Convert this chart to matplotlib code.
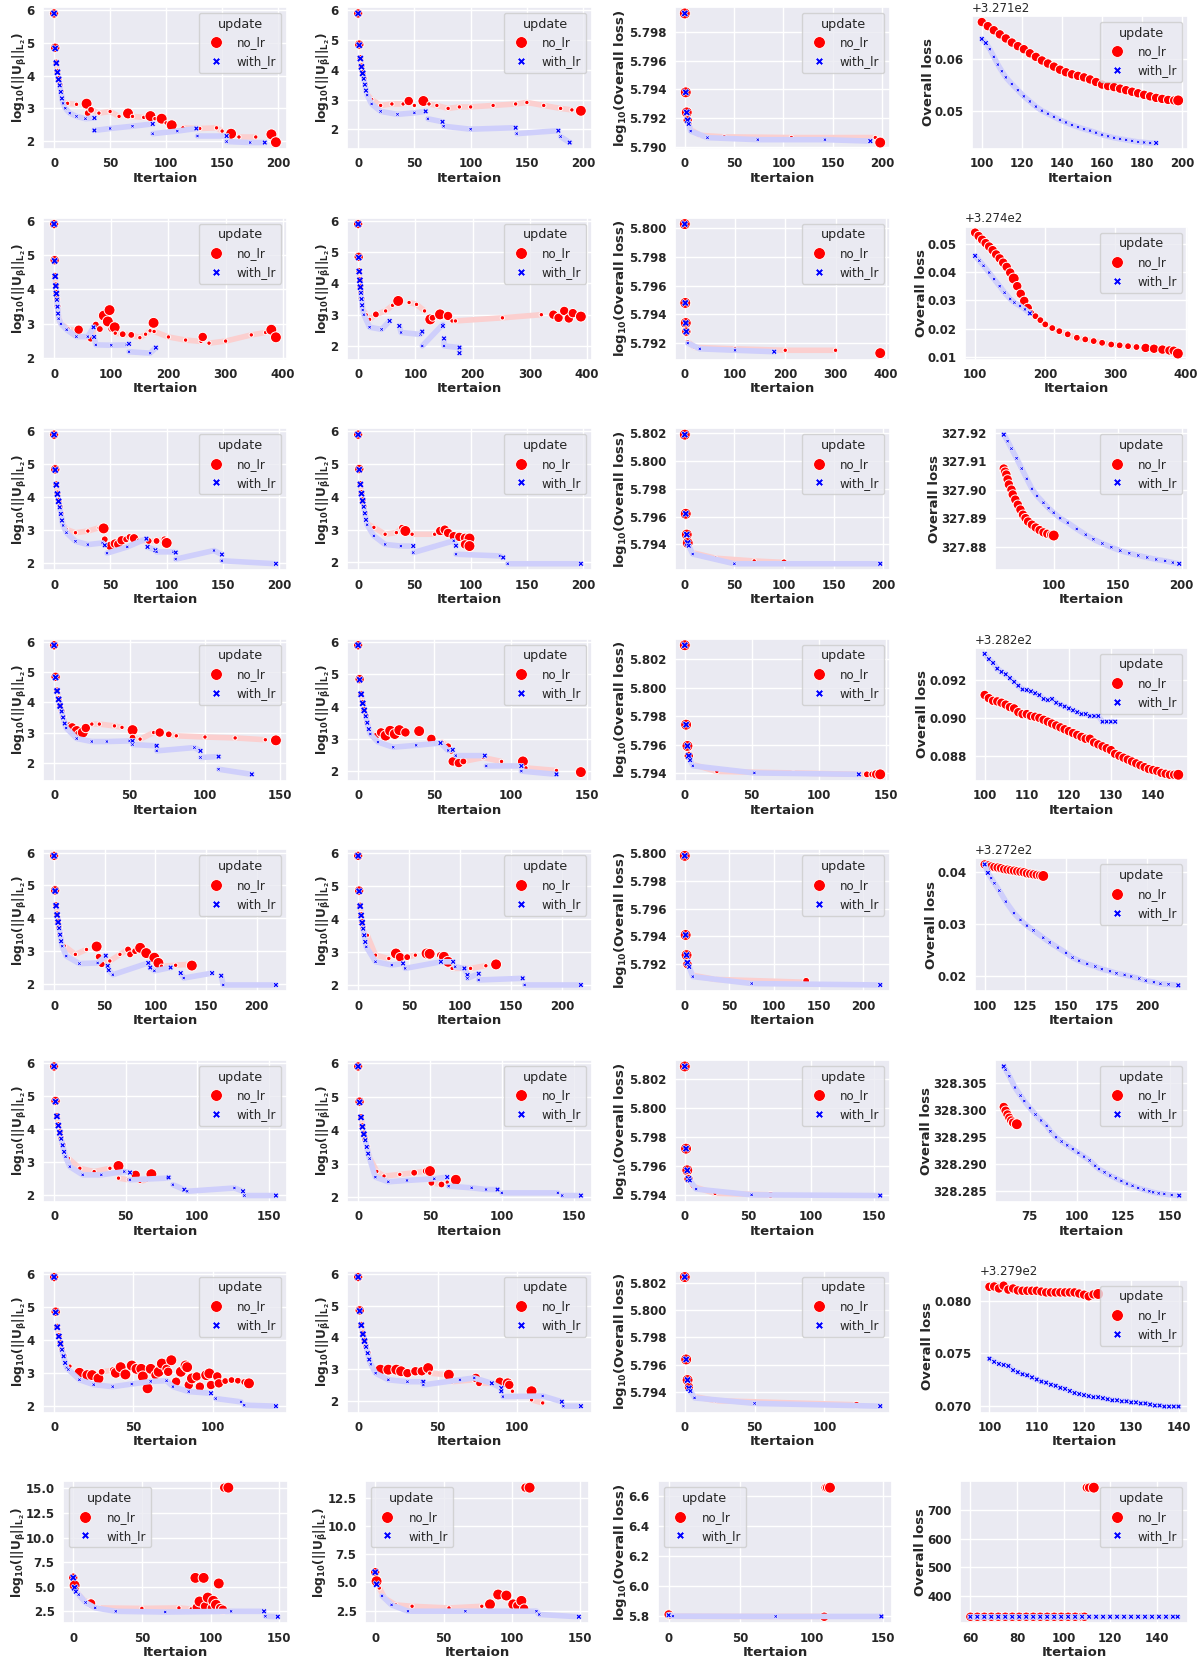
import numpy as np
import matplotlib.pyplot as plt
import seaborn as sns
from matplotlib.lines import Line2D

N = float('nan')
GAP = (N, N, 0)

# every point: (iteration, value, marker weight)  weight 0 = faint trail dot, 3 = big dot
start_no = [(0, 5.9, 2), (1, 4.85, 2), (2, 4.4, 1), (3, 4.12, 1), (4, 3.9, 1), (5, 3.72, 1),
            (6, 3.52, 1), (7, 3.32, 0), (8, 3.18, 0)]
start_lr = [(0, 5.9, 2), (1, 4.83, 2), (2, 4.38, 2), (3, 4.1, 2), (4, 3.88, 2), (5, 3.7, 1),
            (6, 3.5, 1), (7, 3.3, 1), (8, 3.15, 0)]

# ---- row 1
p11_no = start_no + [(12, 3.15, 0), (20, 3.12, 0), (29, 3.14, 3), GAP, (30, 2.85, 1), (33, 2.95, 1), (40, 2.85, 0),
                     (50, 2.9, 0), (58, 2.75, 0), (66, 2.84, 3), (70, 2.75, 0), (80, 2.72, 0), (86, 2.76, 3),
                     (90, 2.68, 0), (96, 2.68, 3), (100, 2.55, 0), (105, 2.48, 3), (115, 2.4, 0), (130, 2.38, 0),
                     (145, 2.4, 0), (150, 2.3, 0), (158, 2.22, 3), (165, 2.12, 0), (180, 2.12, 0), (194, 2.2, 3),
                     GAP, (196, 2.0, 0), (198, 1.96, 3)]
p11_lr = start_lr + [(10, 3.0, 0), (14, 2.85, 0), (20, 2.75, 0), (28, 2.68, 0), (36, 2.7, 1), GAP, (36, 2.32, 1),
                     (50, 2.38, 0), (70, 2.45, 0), (88, 2.52, 1), GAP, (88, 2.22, 0), (110, 2.3, 0), (127, 2.38, 1),
                     GAP, (128, 2.15, 0), (154, 2.15, 1), GAP, (154, 1.98, 0), (175, 1.95, 0), (188, 1.95, 1)]
p12_no = start_no + [(12, 3.0, 0), (20, 2.8, 0), (30, 2.85, 0), (40, 2.85, 0), (45, 2.95, 2), (50, 2.8, 0),
                     (58, 2.95, 3), (63, 2.85, 0), (70, 2.8, 0), (80, 2.7, 0), (90, 2.75, 0), (100, 2.75, 0),
                     (120, 2.8, 0), (140, 2.85, 0), (150, 2.9, 0), (165, 2.8, 0), (180, 2.7, 0), (190, 2.65, 0),
                     (198, 2.62, 3)]
p12_lr = start_lr + [(12, 2.85, 0), (20, 2.6, 0), (35, 2.5, 0), (50, 2.55, 0), (60, 2.6, 1), GAP, (62, 2.35, 0),
                     (75, 2.25, 1), GAP, (76, 2.1, 0), (100, 2.0, 0), (140, 2.05, 1), GAP, (141, 1.85, 0),
                     (178, 1.95, 1), GAP, (180, 1.75, 0), (188, 1.55, 1)]
p13_no = [(0, 5.7993, 3), (1, 5.7938, 3), (2, 5.7924, 3), (3, 5.79185, 2), (4, 5.7916, 1), (6, 5.7912, 0),
          (16, 5.7908, 0), (40, 5.7907, 0), (108, 5.79065, 0), (193, 5.79065, 0), (198, 5.7903, 3)]
p13_lr = [(0, 5.7993, 2), (1, 5.7938, 2), (2, 5.7924, 2), (3, 5.79185, 2), (4, 5.7916, 1), (6, 5.7911, 0),
          (23, 5.79064, 0), (74, 5.7905, 0), (142, 5.7905, 0), (188, 5.7904, 1)]
p14_no = [(100, 327.1673, 2), (103, 327.1665, 2), (106, 327.1657, 2), (109, 327.1649, 2), (112, 327.1641, 2),
          (115, 327.1633, 2), (118, 327.1626, 2), (121, 327.1620, 2), (124, 327.1612, 2), (127, 327.1605, 2),
          (130, 327.1598, 2), (133, 327.1592, 2), (136, 327.1586, 2), (139, 327.1580, 2), (142, 327.1575, 2),
          (145, 327.1571, 2), (148, 327.1568, 2), (151, 327.1565, 2), (154, 327.1561, 2), (157, 327.1556, 2),
          (160, 327.1551, 2), (163, 327.1548, 2), (166, 327.1546, 2), (169, 327.1543, 2), (172, 327.1540, 2),
          (175, 327.1537, 2), (178, 327.1534, 2), (181, 327.1531, 2), (184, 327.1528, 2), (187, 327.1525, 2),
          (190, 327.1523, 2), (193, 327.1521, 2), (196, 327.1520, 2), (198, 327.1520, 3)]
p14_lr = [(100, 327.1640, 1), (102, 327.1632, 1), (104, 327.1620, 0), (106, 327.1605, 0), (108, 327.1590, 0),
          (110, 327.1577, 0), (112, 327.1565, 0), (115, 327.1552, 0), (118, 327.1540, 0), (121, 327.1528, 0),
          (124, 327.1518, 0), (127, 327.1508, 0), (130, 327.1500, 0), (133, 327.1494, 0), (136, 327.1488, 0),
          (139, 327.1482, 0), (142, 327.1477, 0), (145, 327.1472, 0), (148, 327.1468, 0), (151, 327.1464, 0),
          (154, 327.1461, 0), (157, 327.1457, 0), (160, 327.1453, 0), (163, 327.1450, 0), (166, 327.1447, 0),
          (169, 327.1445, 0), (172, 327.1443, 0), (175, 327.1441, 0), (178, 327.1439, 0), (181, 327.1438, 0),
          (184, 327.1437, 0), (187, 327.1437, 1)]

# ---- row 2
p21_no = start_no + [(12, 3.0, 0), (25, 2.85, 0), (39, 2.8, 0), (43, 2.83, 2), GAP, (59, 2.59, 0), (64, 2.57, 1),
                     (73, 2.98, 1), (80, 2.85, 1), (87, 3.24, 3), (94, 3.07, 3), (97, 3.4, 3), (100, 2.85, 1),
                     (106, 2.9, 3), (107, 2.73, 0), (120, 2.7, 1), (135, 2.68, 1), (150, 2.6, 0), (160, 2.7, 0),
                     (168, 2.8, 0), (174, 3.03, 3), GAP, (175, 2.78, 0), (200, 2.62, 0), (230, 2.53, 0),
                     (257, 2.49, 0), (260, 2.62, 2), (271, 2.44, 0), (300, 2.5, 0), (345, 2.68, 0), (370, 2.75, 0),
                     (380, 2.83, 3), (388, 2.61, 3)]
p21_lr = start_lr + [(12, 3.0, 0), (22, 2.83, 0), (39, 2.63, 0), (59, 2.63, 0), (69, 2.9, 1), GAP, (70, 2.62, 1),
                     (73, 2.39, 0), (100, 2.38, 0), (127, 2.39, 0), (131, 2.42, 1), GAP, (131, 2.19, 0),
                     (168, 2.15, 0), (178, 2.31, 1)]
p22_no = start_no + [(14, 3.0, 0), (20, 2.85, 0), (31, 3.01, 1), (48, 3.12, 0), (60, 3.3, 0), (70, 3.44, 3),
                     (89, 3.39, 0), (102, 3.33, 0), (116, 3.12, 0), (126, 2.85, 3), (130, 2.9, 1), (143, 3.01, 3),
                     (157, 2.96, 2), (164, 2.8, 0), (170, 2.8, 0), (252, 2.9, 0), (320, 3.0, 0), (341, 3.0, 2),
                     (350, 2.9, 2), (360, 3.12, 2), (368, 2.88, 2), (375, 3.05, 2), (389, 2.94, 3)]
p22_lr = start_lr + [(10, 3.0, 0), (20, 2.6, 0), (41, 2.53, 0), (55, 2.8, 1), GAP, (72, 2.64, 1), (75, 2.43, 0),
                     (109, 2.37, 0), (112, 2.46, 1), GAP, (112, 2.0, 0), (148, 2.69, 0), (148, 2.64, 1), GAP,
                     (150, 2.24, 1), (150, 2.0, 0), (177, 1.95, 1), (177, 1.77, 1)]
p23_no = [(0, 5.8003, 3), (1, 5.7948, 3), (2, 5.7934, 3), (3, 5.7928, 2), (6, 5.7921, 0), (20, 5.7917, 0),
          (100, 5.7916, 0), (200, 5.7915, 0), (300, 5.7915, 0), (389, 5.7913, 3)]
p23_lr = [(0, 5.8003, 2), (1, 5.7948, 2), (2, 5.7934, 2), (3, 5.7928, 2), (6, 5.7920, 0), (30, 5.7916, 0),
          (100, 5.7915, 0), (178, 5.7914, 1)]
p24_no = [(100, 327.4539, 2), (105, 327.4527, 2), (110, 327.4514, 2), (115, 327.4502, 2), (120, 327.4490, 2),
          (125, 327.4477, 2), (130, 327.4462, 2), (135, 327.4448, 2), (140, 327.4433, 2), (145, 327.4418, 2),
          (150, 327.4398, 2), (155, 327.4377, 3), (160, 327.4350, 2), (165, 327.4323, 2), (170, 327.4298, 2),
          (175, 327.4273, 2), (180, 327.4255, 1), (186, 327.4244, 1), (193, 327.4230, 1), (200, 327.4215, 1),
          (210, 327.4202, 1), (220, 327.4191, 1), (232, 327.4180, 1), (245, 327.4168, 1), (257, 327.4162, 1),
          (269, 327.4156, 1), (281, 327.4150, 1), (294, 327.4144, 1), (306, 327.4141, 1), (318, 327.4138, 1),
          (330, 327.4135, 1), (343, 327.4132, 2), (355, 327.4129, 2), (367, 327.4126, 2), (377, 327.4123, 2),
          (383, 327.4122, 2), (389, 327.4112, 3)]
p24_lr = [(100, 327.4457, 1), (106, 327.4440, 0), (112, 327.4422, 0), (120, 327.4398, 0), (127, 327.4375, 0),
          (135, 327.4350, 0), (142, 327.4327, 0), (150, 327.4305, 0), (156, 327.4292, 0), (164, 327.4280, 0),
          (171, 327.4268, 0), (178, 327.4254, 1)]

# ---- row 3
p31_no = start_no + [(11, 3.03, 0), (19, 2.93, 0), (30, 2.98, 0), (40, 3.08, 0), (44, 3.06, 3), GAP, (45, 2.73, 1),
                     (50, 2.53, 2), (54, 2.6, 2), (57, 2.58, 2), (60, 2.7, 2), (64, 2.73, 1), (67, 2.8, 1),
                     (71, 2.76, 2), GAP, (75, 2.7, 0), (84, 2.68, 1), (91, 2.68, 1), (98, 2.73, 1), (100, 2.62, 3)]
p31_lr = start_lr + [(11, 2.93, 0), (19, 2.67, 0), (30, 2.57, 0), (43, 2.62, 0), (45, 2.55, 1), GAP, (47, 2.31, 0),
                     (65, 2.5, 0), (82, 2.75, 1), GAP, (83, 2.5, 1), (90, 2.4, 1), GAP, (91, 2.35, 0),
                     (106, 2.35, 0), (108, 2.33, 1), GAP, (108, 2.13, 0), (142, 2.39, 0), (149, 2.27, 1), GAP,
                     (149, 2.08, 0), (197, 1.99, 1)]
p32_no = start_no + [(14, 3.07, 0), (24, 2.86, 0), (34, 2.91, 0), (39, 3.06, 1), (42, 2.96, 3), (48, 2.86, 0),
                     (68, 2.86, 0), (73, 2.96, 2), (77, 3.0, 2), (80, 2.9, 2), (85, 2.8, 2), (90, 2.78, 2),
                     (95, 2.75, 2), (99, 2.73, 3), GAP, (95, 2.55, 2), (99, 2.5, 3)]
p32_lr = start_lr + [(14, 2.81, 0), (24, 2.55, 0), (38, 2.5, 0), (49, 2.5, 1), GAP, (49, 2.3, 0), (85, 2.66, 0),
                     (87, 2.51, 1), GAP, (87, 2.25, 0), (126, 2.2, 0), (129, 2.15, 1), GAP, (133, 1.96, 0),
                     (198, 1.96, 1)]
p33_no = [(0, 5.8019, 3), (1, 5.7962, 3), (2, 5.7947, 3), (3, 5.7941, 3), (8, 5.7934, 0), (31, 5.7930, 0),
          (70, 5.7928, 0), (100, 5.7927, 1)]
p33_lr = [(0, 5.8019, 2), (1, 5.7962, 2), (2, 5.7947, 2), (3, 5.7941, 2), (4, 5.7939, 1), (8, 5.7933, 0),
          (50, 5.7926, 0), (197, 5.7926, 1)]
p34_no = [(61, 327.9074, 2), (62, 327.9063, 2), (63, 327.9053, 2), (64, 327.9036, 2), (65, 327.9018, 2),
          (67, 327.9000, 2), (68, 327.8983, 2), (70, 327.8965, 2), (72, 327.8947, 2), (74, 327.8930, 2),
          (76, 327.8912, 2), (78, 327.8900, 2), (80, 327.8888, 2), (83, 327.8877, 2), (86, 327.8867, 2),
          (89, 327.8858, 2), (92, 327.8850, 2), (95, 327.8845, 2), (98, 327.8841, 2), (100, 327.8839, 3)]
p34_lr = [(61, 327.9193, 1), (64, 327.9170, 0), (67, 327.9144, 0), (71, 327.9110, 0), (75, 327.9074, 0),
          (79, 327.9038, 0), (83, 327.9003, 0), (87, 327.8978, 0), (92, 327.8954, 0), (96, 327.8935, 0),
          (100, 327.8919, 0), (105, 327.8900, 0), (111, 327.8884, 0), (118, 327.8862, 0), (125, 327.8842, 0),
          (131, 327.8826, 0), (138, 327.8811, 0), (145, 327.8798, 0), (152, 327.8786, 0), (159, 327.8777, 0),
          (166, 327.8769, 0), (173, 327.8762, 0), (180, 327.8755, 0), (187, 327.8750, 0), (193, 327.8744, 0),
          (198, 327.8740, 1)]

# ---- row 4
p41_no = start_no + [(10, 3.28, 0), (12, 3.17, 2), (15, 3.05, 3), (17, 2.92, 3), (19, 3.0, 3), (21, 3.15, 2),
                     (25, 3.28, 0), (30, 3.28, 0), (40, 3.22, 0), (45, 3.17, 0), (52, 3.08, 3), GAP, (52, 2.83, 1),
                     (57, 2.78, 0), (66, 3.0, 0), (70, 3.0, 2), (76, 2.94, 1), (81, 2.89, 0), (100, 2.85, 0),
                     (120, 2.82, 0), (140, 2.76, 0), (147, 2.74, 3)]
p41_lr = start_lr + [(15, 2.8, 0), (25, 2.7, 0), (35, 2.7, 0), (50, 2.72, 0), (52, 2.72, 1), GAP, (52, 2.6, 0),
                     (67, 2.56, 0), (68, 2.56, 1), GAP, (68, 2.39, 0), (93, 2.5, 0), (97, 2.39, 1), GAP,
                     (97, 2.17, 0), (109, 2.2, 1), GAP, (109, 1.78, 0), (131, 1.61, 1)]
p42_no = start_no + [(12, 3.1, 1), (15, 3.2, 2), (18, 3.1, 3), (21, 3.25, 3), (24, 3.15, 3), (27, 3.27, 3),
                     (31, 3.2, 2), (40, 3.24, 3), (48, 3.0, 2), (55, 2.9, 0), (59, 2.77, 1), (61, 2.63, 1), GAP,
                     (62, 2.3, 2), (66, 2.25, 2), (69, 2.3, 1), (82, 2.42, 0), (94, 2.3, 0), (108, 2.3, 3), GAP,
                     (110, 2.1, 0), (130, 2.02, 0), (146, 1.97, 3)]
p42_lr = start_lr + [(13, 2.9, 0), (23, 2.74, 0), (38, 2.8, 0), (54, 2.87, 1), (59, 2.64, 0), (62, 2.66, 1), GAP,
                     (64, 2.48, 0), (83, 2.48, 1), GAP, (84, 2.16, 0), (107, 2.16, 1), GAP, (107, 2.0, 0),
                     (130, 1.9, 1)]
p43_no = [(0, 5.803, 3), (1, 5.7974, 3), (2, 5.7959, 3), (3, 5.7952, 2), (6, 5.7946, 0), (24, 5.7941, 0),
          (81, 5.7940, 0), (130, 5.7939, 0), (136, 5.7939, 1), (140, 5.7939, 1), (143, 5.7939, 2), (146, 5.7939, 3)]
p43_lr = [(0, 5.803, 2), (1, 5.7974, 2), (2, 5.7959, 2), (3, 5.7952, 2), (4, 5.7949, 1), (6, 5.7945, 0),
          (52, 5.7940, 0), (130, 5.7939, 1)]
p44_no = [(100, 328.29121, 2), (101, 328.29104, 2), (102, 328.2909, 2), (103, 328.29087, 2), (104, 328.2908, 2),
          (105, 328.2907, 2), (106, 328.29057, 2), (107, 328.2905, 2), (108, 328.2903, 2), (109, 328.2902, 2),
          (110, 328.2902, 2), (111, 328.2901, 2), (112, 328.29006, 2), (113, 328.2900, 2), (114, 328.2899, 2),
          (115, 328.2898, 2), (116, 328.2897, 2), (117, 328.2896, 2), (118, 328.2895, 2), (119, 328.2894, 2),
          (120, 328.2893, 2), (121, 328.2892, 2), (122, 328.2891, 2), (123, 328.2890, 2), (124, 328.2889, 2),
          (125, 328.2889, 2), (126, 328.2887, 2), (127, 328.2886, 2), (128, 328.2885, 2), (129, 328.2884, 2),
          (130, 328.2883, 2), (131, 328.2881, 2), (132, 328.2880, 2), (133, 328.2879, 2), (134, 328.2878, 2),
          (135, 328.2877, 2), (136, 328.2876, 2), (137, 328.2875, 2), (138, 328.2874, 2), (139, 328.2873, 2),
          (140, 328.28725, 2), (141, 328.2872, 2), (142, 328.2871, 2), (143, 328.28705, 2), (144, 328.2870, 2),
          (145, 328.2870, 2), (146, 328.2870, 3)]
p44_lr = [(100, 328.29338, 1), (101, 328.2931, 1), (102, 328.2929, 1), (103, 328.2926, 1), (104, 328.29243, 1),
          (105, 328.2923, 1), (106, 328.2921, 1), (107, 328.2919, 1), (108, 328.2917, 1), (109, 328.2915, 1),
          (110, 328.29147, 1), (111, 328.2914, 1), (112, 328.2913, 1), (113, 328.2912, 1), (114, 328.2910, 1),
          (115, 328.29094, 1), (116, 328.2910, 1), (117, 328.2908, 1), (118, 328.2907, 1), (119, 328.2906, 1),
          (120, 328.2905, 1), (121, 328.2904, 1), (122, 328.2903, 1), (123, 328.2902, 1), (124, 328.2902, 1),
          (125, 328.2901, 1), (126, 328.2901, 1), (127, 328.2901, 1), (128, 328.2898, 1), (129, 328.2898, 1),
          (130, 328.2898, 1), (131, 328.2898, 1)]

# ---- row 5
p51_no = start_no + [(10, 3.16, 0), (21, 2.9, 0), (32, 3.05, 0), (42, 3.14, 3), GAP, (44, 2.83, 1), (47, 2.6, 1),
                     (55, 2.7, 0), (65, 2.9, 0), (73, 3.05, 1), (75, 2.9, 1), (80, 3.0, 1), (85, 3.1, 3),
                     (91, 2.94, 3), (99, 2.8, 3), (103, 2.64, 3), (106, 2.54, 0), (120, 2.57, 0), (134, 2.6, 0),
                     (136, 2.56, 3)]
p51_lr = start_lr + [(12, 2.85, 0), (25, 2.62, 0), (43, 2.64, 0), (51, 2.86, 1), GAP, (53, 2.55, 1), (54, 2.42, 1),
                     (58, 2.28, 0), (93, 2.64, 1), GAP, (95, 2.5, 1), (99, 2.4, 0), (115, 2.5, 1), GAP,
                     (125, 2.33, 1), (128, 2.18, 0), (156, 2.33, 1), GAP, (165, 2.25, 1), (167, 1.97, 0),
                     (219, 1.97, 1)]
p52_no = start_no + [(9, 3.5, 0), (17, 2.9, 0), (30, 2.8, 0), (37, 2.95, 3), (41, 2.84, 2), (48, 2.84, 1),
                     (56, 2.9, 0), (67, 2.95, 3), (70, 2.94, 3), (80, 2.9, 1), (84, 2.85, 3), (88, 2.7, 3),
                     (93, 2.5, 0), GAP, (92, 2.5, 0), (110, 2.5, 0), (125, 2.58, 0), (135, 2.62, 3)]
p52_lr = start_lr + [(17, 2.7, 0), (33, 2.6, 0), (44, 2.65, 1), GAP, (46, 2.5, 0), (81, 2.7, 1), (93, 2.7, 1), GAP,
                     (95, 2.55, 0), (104, 2.5, 1), (107, 2.3, 1), GAP, (107, 2.2, 0), (118, 2.34, 1), GAP,
                     (118, 2.15, 0), (161, 2.2, 1), GAP, (163, 2.0, 0), (218, 2.0, 1)]
p53_no = [(0, 5.7998, 3), (1, 5.7941, 3), (2, 5.79265, 3), (3, 5.7920, 2), (9, 5.7912, 0), (34, 5.7909, 0),
          (134, 5.7907, 0), (136, 5.7908, 1)]
p53_lr = [(0, 5.7998, 2), (1, 5.7941, 2), (2, 5.79265, 2), (3, 5.7921, 2), (5, 5.7918, 1), (9, 5.7911, 0),
          (75, 5.7906, 0), (219, 5.7905, 1)]
p54_no = [(100, 327.2414, 2), (102, 327.2412, 2), (104, 327.2410, 2), (106, 327.2409, 2), (108, 327.2408, 2),
          (110, 327.2407, 2), (112, 327.2405, 2), (114, 327.2404, 2), (116, 327.2403, 2), (118, 327.2402, 2),
          (120, 327.2401, 2), (122, 327.2400, 2), (124, 327.2399, 2), (126, 327.2397, 2), (128, 327.2396, 2),
          (130, 327.2395, 2), (132, 327.2394, 2), (134, 327.2393, 2), (136, 327.2392, 3)]
p54_lr = [(100, 327.2414, 1), (102, 327.2398, 1), (104, 327.2388, 0), (106, 327.2378, 0), (109, 327.2364, 0),
          (113, 327.2343, 0), (118, 327.2321, 0), (122, 327.2308, 0), (126, 327.2297, 0), (130, 327.2288, 0),
          (136, 327.2274, 0), (140, 327.2265, 0), (145, 327.2255, 0), (150, 327.2245, 0), (154, 327.2236, 0),
          (158, 327.2230, 0), (163, 327.2224, 0), (168, 327.2219, 0), (172, 327.2214, 0), (177, 327.2210, 0),
          (181, 327.2206, 0), (186, 327.2203, 0), (190, 327.2200, 0), (195, 327.2196, 0), (199, 327.2192, 0),
          (204, 327.2189, 0), (208, 327.2186, 0), (213, 327.2185, 0), (219, 327.2183, 1)]

# ---- row 6
p61_no = start_no + [(10, 3.1, 0), (18, 2.8, 0), (28, 2.7, 0), (39, 2.8, 0), (45, 2.87, 3), GAP, (45, 2.5, 0),
                     (52, 2.45, 0), (57, 2.6, 2), (60, 2.4, 0), (65, 2.45, 0), (68, 2.62, 3)]
p61_lr = start_lr + [(11, 2.85, 0), (20, 2.6, 0), (33, 2.6, 0), (49, 2.7, 0), (53, 2.67, 1), GAP, (53, 2.45, 0),
                     (79, 2.5, 0), (80, 2.52, 1), GAP, (83, 2.3, 0), (91, 2.15, 1), GAP, (93, 2.1, 0),
                     (126, 2.2, 0), (132, 2.1, 1), GAP, (133, 1.97, 0), (155, 1.97, 1)]
p62_no = start_no + [(13, 2.77, 0), (18, 2.63, 0), (29, 2.68, 0), (39, 2.73, 1), (47, 2.78, 1), (50, 2.78, 3), GAP,
                     (51, 2.43, 1), (58, 2.38, 1), (62, 2.45, 0), (68, 2.52, 3)]
p62_lr = start_lr + [(12, 2.6, 0), (21, 2.46, 0), (34, 2.5, 0), (53, 2.55, 0), (62, 2.6, 1), GAP, (63, 2.33, 0),
                     (79, 2.28, 0), (89, 2.23, 0), (97, 2.23, 1), GAP, (100, 2.13, 0), (139, 2.13, 0), GAP,
                     (142, 2.05, 0), (155, 2.05, 1)]
p63_no = [(0, 5.8029, 3), (1, 5.7972, 3), (2, 5.7957, 3), (3, 5.7951, 2), (6, 5.7946, 0), (24, 5.7941, 0),
          (68, 5.7940, 1)]
p63_lr = [(0, 5.8029, 2), (1, 5.7972, 2), (2, 5.7957, 2), (3, 5.7951, 2), (4, 5.7950, 1), (9, 5.7944, 0),
          (53, 5.7940, 0), (155, 5.79395, 1)]
p64_no = [(61, 328.3005, 2), (62, 328.2998, 2), (63, 328.2991, 2), (64, 328.2985, 2), (65, 328.2980, 2),
          (66, 328.2976, 2), (68, 328.2973, 3)]
p64_lr = [(61, 328.3080, 1), (62, 328.3074, 0), (64, 328.3062, 0), (67, 328.3041, 0), (70, 328.3026, 0),
          (72, 328.3016, 0), (75, 328.3003, 0), (78, 328.2991, 0), (81, 328.2980, 0), (84, 328.2970, 0),
          (86, 328.2960, 0), (89, 328.2949, 0), (92, 328.2941, 0), (95, 328.2934, 0), (98, 328.2927, 0),
          (101, 328.2920, 0), (104, 328.2913, 0), (107, 328.2906, 0), (110, 328.2896, 0), (112, 328.2890, 0),
          (115, 328.2884, 0), (118, 328.2878, 0), (121, 328.2873, 0), (124, 328.2868, 0), (127, 328.2863, 0),
          (130, 328.2859, 0), (133, 328.2855, 0), (136, 328.2852, 0), (139, 328.2849, 0), (141, 328.2847, 0),
          (144, 328.2845, 0), (147, 328.2844, 0), (151, 328.2842, 0), (155, 328.2841, 1)]

# ---- row 7
p71_no = start_no + [(10, 3.2, 0), (16, 3.0, 3), (21, 2.93, 3), (24, 2.93, 3), (28, 2.83, 3), (30, 3.03, 1),
                     (37, 3.08, 1), (39, 3.0, 3), (42, 3.17, 3), (45, 2.95, 3), (49, 3.22, 3), (52, 3.12, 3),
                     (55, 3.12, 3), (56, 2.89, 3), (59, 2.53, 3), (61, 3.12, 3), (64, 2.93, 2), (66, 3.03, 3),
                     (68, 3.28, 3), (71, 3.12, 2), (72, 3.03, 2), (74, 3.38, 3), (77, 2.73, 2), (80, 3.03, 3),
                     (83, 3.22, 3), (84, 3.17, 3), (85, 2.63, 2), (87, 2.83, 3), (90, 2.89, 2), (92, 2.58, 2),
                     (96, 2.93, 3), (98, 2.98, 3), (99, 2.63, 2), (103, 2.89, 2), (104, 2.68, 2), (108, 2.75, 1),
                     (112, 2.78, 1), (116, 2.76, 1), (120, 2.72, 1), (123, 2.68, 3)]
p71_lr = start_lr + [(9, 3.1, 0), (16, 2.79, 0), (25, 2.64, 0), (37, 2.58, 0), (49, 2.66, 0), (61, 2.74, 0),
                     (71, 2.76, 0), (75, 2.58, 0), (85, 2.43, 0), (99, 2.38, 1), GAP, (102, 2.22, 0),
                     (118, 2.12, 0), GAP, (120, 2.02, 0), (140, 1.99, 1)]
p72_no = start_no + [(14, 2.98, 3), (19, 2.98, 3), (24, 2.98, 3), (27, 2.93, 3), (31, 2.87, 2), (36, 2.93, 2),
                     (40, 2.93, 2), (44, 3.03, 3), (45, 2.87, 0), (56, 2.82, 0), (57, 2.82, 3), GAP, (59, 2.6, 0),
                     (73, 2.66, 0), (74, 2.72, 2), (76, 2.55, 1), (85, 2.55, 0), (89, 2.6, 2), (94, 2.55, 3),
                     (95, 2.5, 2), GAP, (97, 2.3, 0), (109, 2.3, 3), GAP, (109, 2.03, 0), (116, 1.93, 0)]
p72_lr = start_lr + [(11, 2.87, 0), (19, 2.66, 0), (31, 2.6, 0), (40, 2.6, 0), (41, 2.6, 1), GAP, (41, 2.5, 0),
                     (64, 2.66, 0), (73, 2.72, 0), (84, 2.55, 1), (90, 2.4, 1), (90, 2.3, 1), GAP, (91, 2.13, 0),
                     (116, 2.15, 0), (128, 1.97, 1), GAP, (129, 1.83, 0), (140, 1.83, 1)]
p73_no = [(0, 5.8024, 3), (1, 5.7964, 3), (2, 5.7949, 3), (3, 5.7944, 2), (7, 5.7937, 0), (22, 5.7934, 0),
          (123, 5.7931, 1)]
p73_lr = [(0, 5.8024, 2), (1, 5.7964, 2), (2, 5.7949, 2), (3, 5.7943, 2), (4, 5.7941, 1), (7, 5.7936, 0),
          (50, 5.7932, 0), (140, 5.7930, 1)]
p74_no = [(100, 327.98141, 2), (101, 327.98144, 2), (102, 327.98125, 2), (103, 327.98152, 2), (104, 327.98114, 2),
          (105, 327.98125, 2), (106, 327.98106, 2), (107, 327.98103, 2), (108, 327.98103, 2), (109, 327.98103, 2),
          (110, 327.98103, 2), (111, 327.98095, 2), (112, 327.98087, 2), (113, 327.98087, 2), (114, 327.98087, 2),
          (115, 327.98087, 2), (116, 327.98087, 2), (117, 327.98087, 2), (118, 327.98087, 2), (119, 327.98076, 2),
          (120, 327.98065, 2), (121, 327.98049, 2), (122, 327.98068, 2), (123, 327.98072, 3)]
p74_lr = [(100, 327.9745, 1), (101, 327.9742, 1), (102, 327.9740, 1), (103, 327.9739, 1), (104, 327.9738, 1),
          (105, 327.9734, 1), (106, 327.9732, 1), (107, 327.9730, 1), (108, 327.9729, 1), (109, 327.9727, 1),
          (110, 327.9725, 1), (111, 327.9723, 1), (112, 327.9722, 1), (113, 327.9720, 1), (114, 327.9719, 1),
          (115, 327.9717, 1), (116, 327.9716, 1), (117, 327.9714, 1), (118, 327.9712, 1), (119, 327.9711, 1),
          (120, 327.9710, 1), (121, 327.9709, 1), (122, 327.9708, 1), (123, 327.9708, 1), (124, 327.9707, 1),
          (125, 327.9706, 1), (126, 327.9705, 1), (127, 327.9705, 1), (128, 327.9704, 1), (129, 327.9704, 1),
          (130, 327.9703, 1), (131, 327.9703, 1), (132, 327.9702, 1), (133, 327.9702, 1), (134, 327.9701, 1),
          (135, 327.9700, 1), (136, 327.9700, 1), (137, 327.9699, 1), (138, 327.9699, 1), (139, 327.9699, 1),
          (140, 327.9699, 1)]

# ---- row 8
p81_no = [(0, 5.92, 2), (1, 5.13, 3), (2, 4.7, 1), (4, 4.2, 0), (8, 3.6, 0), (12, 3.45, 1), (13, 3.3, 2),
          (19, 2.85, 0), (50, 2.8, 0), (77, 2.85, 0), (86, 2.75, 0), (89, 5.9, 3), (90, 2.9, 2), (92, 3.5, 3),
          (95, 5.9, 3), (96, 3.0, 2), (98, 3.9, 3), (101, 2.83, 2), (102, 3.57, 3), (104, 3.17, 3), (106, 5.33, 3),
          (107, 2.83, 2), (109, 2.67, 2), (110, 15.07, 2), (113, 15.07, 3)]
p81_lr = [(0, 5.92, 2), (1, 4.9, 2), (2, 4.5, 1), (4, 4.2, 0), (9, 3.4, 0), (16, 2.85, 0), (31, 2.5, 0),
          (67, 2.43, 0), (115, 2.5, 0), (139, 2.5, 1), GAP, (140, 2.0, 0), (149, 1.95, 1)]
p82_no = [(0, 5.9, 2), (1, 5.1, 3), (3, 4.5, 0), (7, 3.6, 0), (15, 3.0, 0), (27, 2.88, 0), (54, 2.73, 0),
          (78, 2.88, 0), (84, 3.05, 3), (90, 3.92, 3), (96, 3.83, 3), (101, 3.05, 3), (104, 2.93, 2), (107, 3.36, 3),
          (109, 2.67, 2), (110, 13.4, 2), (113, 13.4, 3)]
p82_lr = [(0, 5.9, 2), (1, 4.83, 2), (5, 3.8, 0), (12, 3.0, 0), (24, 2.44, 0), (66, 2.44, 0), (118, 2.44, 0),
          (120, 2.15, 0), (149, 1.95, 1)]
p83_no = [(0, 5.813, 2), (1, 5.805, 1), (5, 5.801, 0), (50, 5.800, 0), (108, 5.800, 0), (109, 5.798, 2),
          (110, 6.652, 2), (111, 6.652, 2), (113, 6.652, 3)]
p83_lr = [(0, 5.808, 1), (3, 5.802, 0), (75, 5.800, 0), (149, 5.800, 1)]
p84_no = [(60, 328.3, 2), (63, 328.3, 2), (66, 328.3, 2), (69, 328.3, 2), (72, 328.3, 2), (75, 328.3, 2),
          (78, 328.3, 2), (81, 328.3, 2), (84, 328.3, 2), (87, 328.3, 2), (90, 328.3, 2), (93, 328.3, 2),
          (96, 328.3, 2), (99, 328.3, 2), (102, 328.3, 2), (105, 328.3, 2), (108, 328.3, 2), (109, 328.3, 2),
          (110, 777.0, 2), (111, 777.0, 2), (113, 777.0, 3)]
p84_lr = [(60, 328.3, 1), (63, 328.3, 1), (66, 328.3, 1), (69, 328.3, 1), (72, 328.3, 1), (75, 328.3, 1),
          (78, 328.3, 1), (81, 328.3, 1), (84, 328.3, 1), (87, 328.3, 1), (90, 328.3, 1), (93, 328.3, 1),
          (96, 328.3, 1), (99, 328.3, 1), (102, 328.3, 1), (105, 328.3, 1), (108, 328.3, 1), (111, 328.3, 1),
          (114, 328.3, 1), (117, 328.3, 1), (120, 328.3, 1), (123, 328.3, 1), (126, 328.3, 1), (129, 328.3, 1),
          (132, 328.3, 1), (135, 328.3, 1), (138, 328.3, 1), (141, 328.3, 1), (144, 328.3, 1), (147, 328.3, 1),
          (149, 328.3, 1)]

runs = [
    [(p11_no, p11_lr), (p12_no, p12_lr), (p13_no, p13_lr), (p14_no, p14_lr)],
    [(p21_no, p21_lr), (p22_no, p22_lr), (p23_no, p23_lr), (p24_no, p24_lr)],
    [(p31_no, p31_lr), (p32_no, p32_lr), (p33_no, p33_lr), (p34_no, p34_lr)],
    [(p41_no, p41_lr), (p42_no, p42_lr), (p43_no, p43_lr), (p44_no, p44_lr)],
    [(p51_no, p51_lr), (p52_no, p52_lr), (p53_no, p53_lr), (p54_no, p54_lr)],
    [(p61_no, p61_lr), (p62_no, p62_lr), (p63_no, p63_lr), (p64_no, p64_lr)],
    [(p71_no, p71_lr), (p72_no, p72_lr), (p73_no, p73_lr), (p74_no, p74_lr)],
    [(p81_no, p81_lr), (p82_no, p82_lr), (p83_no, p83_lr), (p84_no, p84_lr)],
]
ylabels = [r'log$_{10}(||U_{\beta}||_{L_2})$', r'log$_{10}(||U_{\bar{\beta}}||_{L_2})$',
           r'log$_{10}$(Overall loss)', 'Overall loss']

sns.set_theme(style='darkgrid')
plt.rcParams['font.family'] = ['DejaVu Sans']
plt.rcParams['font.weight'] = 'bold'
plt.rcParams['axes.labelweight'] = 'bold'
plt.rcParams['mathtext.default'] = 'bf'
plt.rcParams['axes.labelsize'] = 9.5
plt.rcParams['xtick.labelsize'] = 8.5
plt.rcParams['ytick.labelsize'] = 8.5

W, H = 1200, 1663
fig = plt.figure(figsize=(W / 100, H / 100), dpi=100)

red_s = np.array([10, 24, 46, 62])
blue_s = np.array([8, 16, 28, 38])


def draw(ax, pts, color, light, marker, sizes, lw_edge, z):
    x = np.array([p[0] for p in pts], float)
    y = np.array([p[1] for p in pts], float)
    w = np.array([p[2] for p in pts])
    trail = np.where(w <= 1, y, np.nan)
    ax.plot(x, trail, color=light, lw=4, solid_capstyle='round', zorder=z)
    ok = ~np.isnan(x)
    ax.scatter(x[ok], y[ok], s=sizes[w[ok]], c=color, marker=marker,
               edgecolors='white', linewidths=lw_edge, zorder=z + 1)


col_lr = [(43, 287), (347, 592), (675, 890), (None, 1188)]
col4_left = [972, 965, 995, 975, 975, 995, 980, 960]
row8_lr = [(63, 288), (365, 589), (658, 892)]
offset_rows = [0, 1, 3, 4, 6]

handles = [Line2D([], [], marker='o', ls='', color='red', markersize=8.5, markeredgecolor='white',
                  markeredgewidth=0.6, label='no_lr'),
           Line2D([], [], marker='X', ls='', color='blue', markersize=6, markeredgecolor='white',
                  markeredgewidth=0.5, label='with_lr')]

for r in range(8):
    for c in range(4):
        top = 7 + 210.6 * r
        bottom = top + 142
        if c == 3:
            left, right = col4_left[r], 1188
            if r in offset_rows:
                top += 9
        elif r == 7:
            left, right = row8_lr[c]
        else:
            left, right = col_lr[c]
        ax = fig.add_axes([left / W, 1 - bottom / H, (right - left) / W, (bottom - top) / H])
        no, lr = runs[r][c]
        draw(ax, no, 'red', '#fbcfcf', 'o', red_s, 0.7, 1)
        draw(ax, lr, 'blue', '#cfcffb', 'X', blue_s, 0.4, 3)
        ax.tick_params(axis='x', length=0, pad=6)
        ax.tick_params(axis='y', length=0, pad=6)
        ax.set_xlabel('Itertaion', labelpad=1)
        if c < 2:
            ax.set_ylabel(ylabels[c], labelpad=-2, fontsize=8.8)
        else:
            ax.set_ylabel(ylabels[c], labelpad=0)
        ax.yaxis.get_offset_text().set_fontweight('normal')
        ax.yaxis.get_offset_text().set_fontsize(8.5)
        loc = 'upper left' if (r == 7 and c < 3) else 'upper right'
        ax.legend(handles=handles, title='update', loc=loc,
                  prop={'size': 8.5, 'weight': 'normal'},
                  title_fontproperties={'size': 9.2, 'weight': 'normal'})

fig.savefig('out.png', dpi=100)
